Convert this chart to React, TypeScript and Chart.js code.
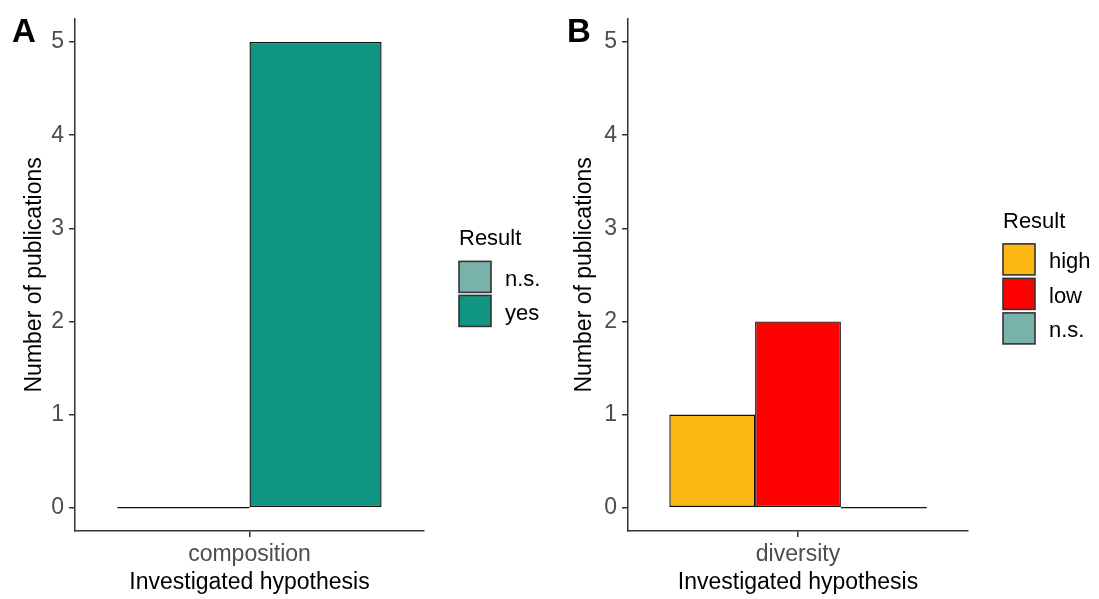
import React, { useEffect, useRef } from "react";
import { Chart, registerables } from "chart.js";

Chart.register(...registerables);

// ---------- data ----------
const yTickValues = [0, 1, 2, 3, 4, 5];
const yTitle = "Number of publications";
const xTitle = "Investigated hypothesis";
const legendTitle = "Result";

const categoriesA = ["composition"];
const seriesNamesA = ["n.s.", "yes"];
const valuesA_ns = [0];
const valuesA_yes = [5];
const coloursA = ["#78B2AB", "#0F9581"];

const categoriesB = ["diversity"];
const seriesNamesB = ["high", "low", "n.s."];
const valuesB_high = [1];
const valuesB_low = [2];
const valuesB_ns = [0];
const coloursB = ["#FDB813", "#FF0000", "#78B2AB"];

const FONT = "'Liberation Sans', Arial, sans-serif";
const FS = 23;
const BORDER = "#111111";
const AXIS = "#333333";

// draws zero-height bars as a flat outline, like ggplot
const zeroBarPlugin = {
  id: "zeroBar",
  afterDatasetsDraw(chart: any) {
    const ctx = chart.ctx;
    chart.data.datasets.forEach((ds: any, i: number) => {
      const meta = chart.getDatasetMeta(i);
      meta.data.forEach((el: any) => {
        const p = el.getProps(["x", "y", "base", "width"], true);
        if (Math.abs(p.base - p.y) < 0.5) {
          ctx.save();
          ctx.strokeStyle = BORDER;
          ctx.lineWidth = 1.3;
          ctx.beginPath();
          ctx.moveTo(p.x - p.width / 2, p.y);
          ctx.lineTo(p.x + p.width / 2, p.y);
          ctx.stroke();
          ctx.restore();
        }
      });
    });
  },
};

const legendPlugin = {
  id: "ggLegend",
  afterDraw(chart: any, _args: any, opts: any) {
    const ctx = chart.ctx;
    const area = chart.chartArea;
    const items = chart.data.datasets;
    const row = opts.row ?? 34;
    const titleGap = 32;
    const boxW = 32;
    const boxH = 31;
    const h = titleGap + items.length * row - (row - boxH);
    const cy = (area.top + area.bottom) / 2 + 3;
    const top = cy - h / 2;
    const left = area.right + 35;
    ctx.save();
    ctx.fillStyle = "#000";
    ctx.font = `${FS - 1}px ${FONT}`;
    ctx.textBaseline = "alphabetic";
    ctx.textAlign = "left";
    ctx.fillText(legendTitle, left, top + 16);
    items.forEach((ds: any, i: number) => {
      const by = top + titleGap + i * row;
      ctx.fillStyle = ds.backgroundColor;
      ctx.fillRect(left, by, boxW, boxH);
      ctx.strokeStyle = "#333";
      ctx.lineWidth = 1.6;
      ctx.strokeRect(left, by, boxW, boxH);
      ctx.fillStyle = "#000";
      ctx.fillText(ds.label, left + 46, by + boxH / 2 + 9);
    });
    // panel letter
    ctx.font = `bold 33px ${FONT}`;
    ctx.fillText(opts.letter, opts.letterX, 42);
    ctx.restore();
  },
};

function makeConfig(
  labels: string[],
  datasets: any[],
  yWidth: number,
  padRight: number,
  letter: string,
  letterX: number,
  row: number
) {
  return {
    type: "bar" as const,
    data: { labels, datasets },
    plugins: [zeroBarPlugin, legendPlugin],
    options: {
      responsive: false,
      maintainAspectRatio: false,
      animation: false,
      layout: { padding: { top: 16, right: padRight, left: 0, bottom: 0 } },
      datasets: {
        bar: {
          categoryPercentage: 0.757,
          barPercentage: 1,
          borderWidth: 1.4,
          borderColor: BORDER,
          borderSkipped: false,
        },
      },
      plugins: {
        legend: { display: false },
        tooltip: { enabled: false },
        ggLegend: { letter, letterX, row },
      },
      scales: {
        x: {
          type: "category",
          offset: true,
          afterFit(scale: any) {
            scale.height = 68;
          },
          grid: {
            offset: false,
            drawOnChartArea: false,
            drawTicks: true,
            tickLength: 6,
            tickColor: AXIS,
            lineWidth: 1.5,
          },
          border: { display: true, color: AXIS, width: 1.5 },
          ticks: {
            color: "#4D4D4D",
            font: { family: FONT, size: FS },
            padding: 4,
            maxRotation: 0,
          },
          title: {
            display: true,
            text: xTitle,
            color: "#000",
            font: { family: FONT, size: FS },
            padding: { top: 0, bottom: 3 },
          },
        },
        y: {
          type: "linear",
          min: -0.25,
          max: 5.25,
          afterFit(scale: any) {
            scale.width = yWidth;
          },
          afterBuildTicks(scale: any) {
            scale.ticks = yTickValues.map((v) => ({ value: v }));
          },
          grid: {
            drawOnChartArea: false,
            drawTicks: true,
            tickLength: 6,
            tickColor: AXIS,
            lineWidth: 1.5,
          },
          border: { display: true, color: AXIS, width: 1.5 },
          ticks: {
            color: "#4D4D4D",
            font: { family: FONT, size: FS },
            padding: 5,
          },
          title: {
            display: true,
            text: yTitle,
            color: "#000",
            font: { family: FONT, size: FS },
            padding: { top: 21, bottom: 0 },
          },
        },
      },
    },
  };
}

function Panel(props: { config: any; width: number; left: number }) {
  const ref = useRef<HTMLCanvasElement | null>(null);
  useEffect(() => {
    if (!ref.current) return;
    const chart = new Chart(ref.current, props.config);
    return () => chart.destroy();
  }, []);
  return (
    <canvas
      ref={ref}
      width={props.width}
      height={599}
      style={{ position: "absolute", left: props.left, top: 0, width: props.width, height: 599, display: "block" }}
    />
  );
}

export default function App() {
  const cfgA = makeConfig(
    categoriesA,
    [
      { label: seriesNamesA[0], data: valuesA_ns, backgroundColor: coloursA[0] },
      { label: seriesNamesA[1], data: valuesA_yes, backgroundColor: coloursA[1] },
    ],
    75,
    126,
    "A",
    12,
    34
  );
  const cfgB = makeConfig(
    categoriesB,
    [
      { label: seriesNamesB[0], data: valuesB_high, backgroundColor: coloursB[0] },
      { label: seriesNamesB[1], data: valuesB_low, backgroundColor: coloursB[1] },
      { label: seriesNamesB[2], data: valuesB_ns, backgroundColor: coloursB[2] },
    ],
    78,
    131,
    "B",
    17,
    34.5
  );
  return (
    <div style={{ position: "absolute", left: 0, top: 0, width: 1099, height: 599, background: "#fff", overflow: "hidden" }}>
      <Panel config={cfgA} width={550} left={0} />
      <Panel config={cfgB} width={549} left={550} />
    </div>
  );
}
